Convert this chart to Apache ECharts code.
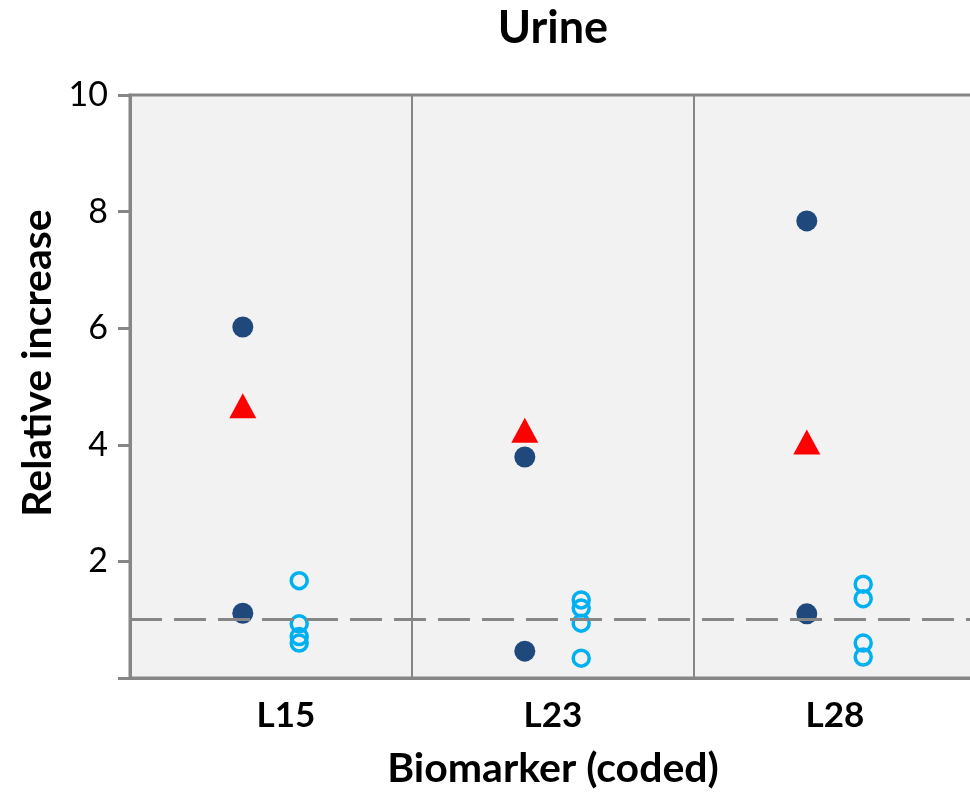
<!DOCTYPE html>
<html>
<head>
<meta charset="utf-8">
<script src="https://cdn.jsdelivr.net/npm/echarts@6/dist/echarts.min.js"></script>
<style>
  html, body { margin: 0; background: #fff; }
  #chart { width: 970px; height: 793px; }
</style>
</head>
<body>
<div id="chart"></div>
<script>
// values
const biomarkers = ['L15', 'L23', 'L28']
const solidValues = [[6.02, 1.11], [3.79, 0.46], [7.84, 1.10]]
const triangleValues = [4.67, 4.25, 4.05]
const openValues = [[1.67, 0.93, 0.71, 0.60], [1.34, 1.20, 0.94, 0.34], [1.61, 1.36, 0.60, 0.36]]
const yTicks = [0, 2, 4, 6, 8, 10]
const baseline = 1

const FONT = 'Lato'
const GRAY = '#868686'

// each biomarker takes one unit on the x axis; marks sit left / right of centre
function place(groups, offset) {
  const out = []
  groups.forEach((vals, i) => {
    [].concat(vals).forEach(v => out.push([i + offset, v]))
  })
  return out
}

const chart = echarts.init(document.getElementById('chart'))

chart.setOption({
  animation: false,
  title: {
    text: 'Urine',
    left: 548,
    top: 1,
    textAlign: 'center',
    textStyle: { fontFamily: FONT, fontWeight: 'bold', fontSize: 45, color: '#000' }
  },
  grid: {
    left: 130, top: 95, width: 846, height: 583,
    outerBoundsMode: 'none',
    containLabel: false,
    show: true,
    backgroundColor: '#F2F2F2',
    borderColor: GRAY,
    borderWidth: 3
  },
  graphic: [{
    type: 'text',
    x: 38, y: 363,
    rotation: Math.PI / 2,
    style: {
      text: 'Relative increase',
      fontFamily: FONT, fontWeight: 'bold', fontSize: 41, fill: '#000',
      align: 'center', verticalAlign: 'middle'
    }
  }],
  xAxis: [{
    type: 'value',
    min: 0,
    max: biomarkers.length,
    interval: 1,
    axisLine: { show: true, lineStyle: { color: GRAY, width: 3 } },
    axisTick: { show: false },
    axisLabel: { show: false },
    splitLine: { show: true, lineStyle: { color: GRAY, width: 2 } },
    name: 'Biomarker (coded)',
    nameLocation: 'middle',
    nameGap: 70,
    nameTextStyle: { fontFamily: FONT, fontWeight: 'bold', fontSize: 41, color: '#000' }
  }, {
    type: 'category',
    data: biomarkers,
    position: 'bottom',
    boundaryGap: true,
    axisLine: { show: false },
    axisTick: { show: false },
    splitLine: { show: false },
    axisLabel: {
      margin: 20,
      fontFamily: FONT, fontWeight: 'bold', fontSize: 35, color: '#000',
      formatter: (v, i) => i === 0 ? '{first|' + v + '}' : v,
      rich: { first: { fontFamily: FONT, fontWeight: 'bold', fontSize: 35, color: '#000', padding: [0, 0, 0, 30] } }
    }
  }],
  yAxis: {
    type: 'value',
    min: yTicks[0],
    max: yTicks[yTicks.length - 1],
    interval: yTicks[1] - yTicks[0],
    axisLine: { show: true, lineStyle: { color: GRAY, width: 3 } },
    axisTick: { show: true, length: 12, lineStyle: { color: GRAY, width: 3 } },
    axisLabel: {
      margin: 22,
      fontFamily: FONT, fontSize: 34, color: '#000',
      formatter: v => v === 0 ? '' : String(v)
    },
    splitLine: { show: false }
  },
  series: [{
    type: 'line',
    data: [],
    z: 1,
    markLine: {
      silent: true,
      symbol: 'none',
      label: { show: false },
      lineStyle: { color: GRAY, width: 3, type: [32, 12] },
      data: [{ yAxis: baseline }]
    }
  }, {
    type: 'scatter',
    z: 3,
    symbol: 'circle',
    symbolSize: 21,
    itemStyle: { color: '#1F497D', opacity: 1 },
    data: place(solidValues, 0.4)
  }, {
    type: 'scatter',
    z: 3,
    symbol: 'triangle',
    symbolSize: [27, 25],
    itemStyle: { color: '#FF0000', opacity: 1 },
    data: place(triangleValues, 0.4)
  }, {
    type: 'scatter',
    z: 3,
    symbol: 'circle',
    symbolSize: 16,
    itemStyle: { color: 'transparent', borderColor: '#00B0F0', borderWidth: 3.5, opacity: 1 },
    data: place(openValues, 0.6)
  }]
})
</script>
</body>
</html>
